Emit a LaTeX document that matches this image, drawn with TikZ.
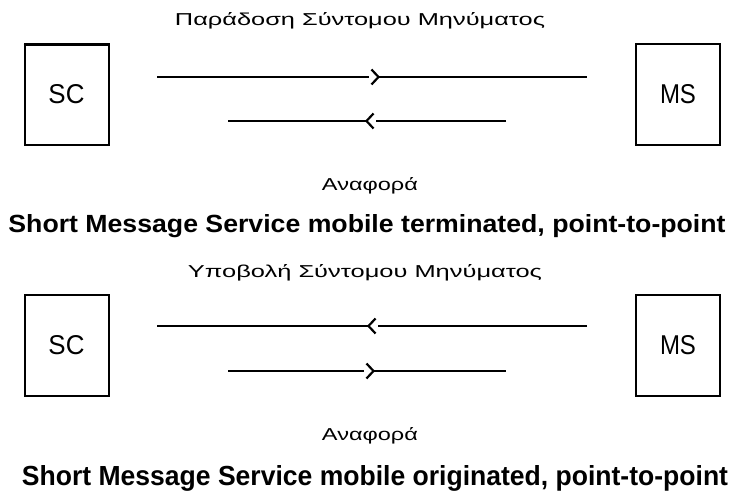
\documentclass[tikz,border=0pt]{standalone}
\usepackage{fontspec}
\setmainfont{Liberation Sans}
\usetikzlibrary{arrows.meta,decorations.markings}
\begin{document}
\begin{tikzpicture}[x=1pt,y=-1pt,
  box/.style={draw,line width=2pt,minimum width=84pt,minimum height=101pt,inner sep=0pt},
  msg/.style={line width=2pt},
  midarrow/.style={postaction={decorate},decoration={markings,
     mark=at position #1 with {\fill[white](-11pt,-3pt) rectangle (-1.5pt,3pt);
       \arrow[line width=2.2pt]{Straight Barb[length=7pt,width=15pt]}}}},
  lbl/.style={anchor=base,inner sep=0pt},
]
\useasboundingbox[fill=white] (0,0) rectangle (731,492);

% ---------- upper diagram ----------
\node[box] (sc1) at (66.5,94.5) {\resizebox{36pt}{19pt}{SC}};
\node[box] (ms1) at (678,94.5) {\resizebox{36pt}{19pt}{MS}};
\draw[line width=2pt] ([yshift=-2pt]sc1.north west) -- ([yshift=-2pt]sc1.north east);

\coordinate (a1) at (157,77);  \coordinate (b1) at (587,77);
\coordinate (a2) at (228,121); \coordinate (b2) at (506,121);
\draw[msg,midarrow=223pt] (a1) -- (b1);
\draw[msg,midarrow=141pt] (b2) -- (a2);

\node[lbl] (t1) at (360,26) {\resizebox{370pt}{13pt}{Παράδοση Σύντομου Μηνύματος}};
\node[lbl] (r1) at (370,190) {\resizebox{96pt}{13pt}{Αναφορά}};
\node[lbl] (c1) at (367,233) {\resizebox{717pt}{18pt}{\bfseries Short Message Service mobile terminated, point-to-point}};

% ---------- lower diagram ----------
\node[box] (sc2) at (66.5,345.5) {\resizebox{36pt}{19pt}{SC}};
\node[box] (ms2) at (678,345.5) {\resizebox{36pt}{19pt}{MS}};

\coordinate (a3) at (157,326); \coordinate (b3) at (587,326);
\coordinate (a4) at (228,371); \coordinate (b4) at (506,371);
\draw[msg,midarrow=220pt] (b3) -- (a3);
\draw[msg,midarrow=147pt] (a4) -- (b4);

\node[lbl] (t2) at (365,277) {\resizebox{354pt}{13pt}{Υποβολή Σύντομου Μηνύματος}};
\node[lbl] (r2) at (370,440) {\resizebox{96pt}{13pt}{Αναφορά}};
\node[lbl] (c2) at (375,485) {\resizebox{706pt}{20pt}{\bfseries Short Message Service mobile originated, point-to-point}};
\end{tikzpicture}
\end{document}
